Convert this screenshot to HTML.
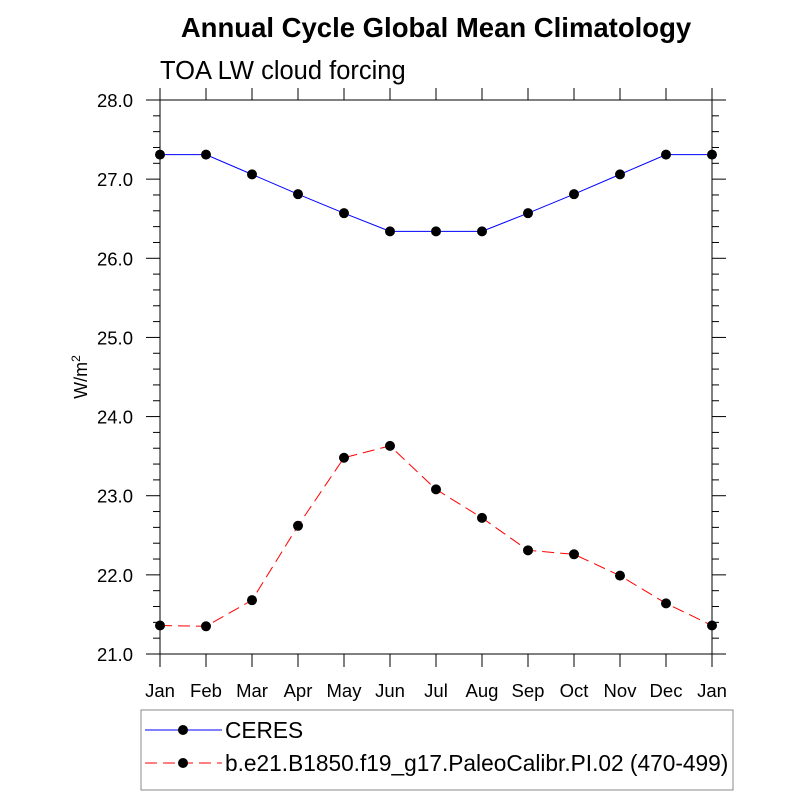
<!DOCTYPE html>
<html><head><meta charset="utf-8"><style>body{margin:0;background:#fff}svg{display:block;font-family:"Liberation Sans",sans-serif}</style></head>
<body>
<svg id="c" width="800" height="800">
<text x="436" y="37" text-anchor="middle" font-size="27.5" font-weight="bold">Annual Cycle Global Mean Climatology</text>
<text x="160" y="79" font-size="25.5">TOA LW cloud forcing</text>
<text transform="translate(87,377) rotate(-90)" text-anchor="middle" font-size="18">W/m<tspan dy="-7" font-size="12">2</tspan></text>
<g id="ax"></g><g id="series"></g>
<rect x="141" y="710" width="592" height="80" fill="none" stroke="#888" stroke-width="1"/>
<g>
<line x1="145" y1="730" x2="222" y2="730" stroke="#00f"/>
<circle cx="183" cy="730" r="5" fill="#000"/>
<text x="225" y="738" font-size="22.7">CERES</text></g>
<g>
<line x1="145" y1="763" x2="222" y2="763" stroke="#f00" stroke-dasharray="12,6"/>
<circle cx="183" cy="763" r="5" fill="#000"/>
<text x="225" y="771" font-size="22.7">b.e21.B1850.f19_g17.PaleoCalibr.PI.02 (470-499)</text></g>
</svg>
<script>
const months=["Jan","Feb","Mar","Apr","May","Jun","Jul","Aug","Sep","Oct","Nov","Dec","Jan"];
const ceres=[27.31,27.31,27.06,26.81,26.57,26.34,26.34,26.34,26.57,26.81,27.06,27.31,27.31];
const model=[21.36,21.35,21.68,22.62,23.48,23.63,23.08,22.72,22.31,22.26,21.99,21.64,21.36];
const yTicks=[21,22,23,24,25,26,27,28];
const NS="http://www.w3.org/2000/svg";
const L=160,R=712,T=100,B=654,ymin=21,ymax=28;
const xs=i=>L+(R-L)*i/(months.length-1);
const ys=v=>B-(v-ymin)/(ymax-ymin)*(B-T);
function mk(t,a,p){const e=document.createElementNS(NS,t);for(const k in a)e.setAttribute(k,a[k]);p.appendChild(e);return e;}
const ax=document.getElementById('ax');
const fr=mk('rect',{x:L,y:T,width:R-L,height:B-T,fill:'none',stroke:'#000','stroke-width':1},ax);


months.forEach((m,i)=>{const x=xs(i);
mk('line',{x1:x,y1:B,x2:x,y2:B+13,stroke:'#000'},ax);
mk('line',{x1:x,y1:T,x2:x,y2:T-12,stroke:'#000'},ax);
const t=mk('text',{x:x,y:B+43,'text-anchor':'middle','font-size':18.5},ax);t.textContent=m;

});
for(let v=ymin;v<=ymax+1e-9;v+=0.2){const y=ys(v);const maj=Math.abs(v-Math.round(v))<1e-6;const len=maj?14:7;
mk('line',{x1:L,y1:y,x2:L-len,y2:y,stroke:'#000'},ax);mk('line',{x1:R,y1:y,x2:R+len,y2:y,stroke:'#000'},ax);}
yTicks.forEach(v=>{const t=mk('text',{x:L-27,y:ys(v)+7,'text-anchor':'end','font-size':18.5},ax);t.textContent=v.toFixed(1);

});
const sg=document.getElementById('series');
function draw(d,col,dash,name){const p=mk('polyline',{points:d.map((v,i)=>xs(i)+','+ys(v)).join(' '),fill:'none',stroke:col,'stroke-dasharray':dash},sg);


d.forEach((v,i)=>{const c=mk('circle',{cx:xs(i),cy:ys(v),r:5,fill:'#000'},sg);

});}
draw(ceres,'#00f','none','ceres');
draw(model,'#f00','12,6','model');
</script>
</body></html>
